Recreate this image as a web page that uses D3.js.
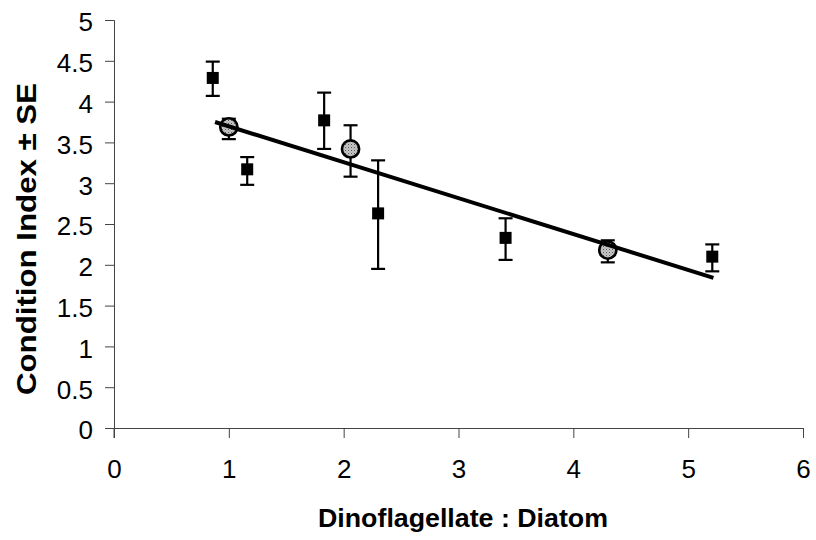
<!DOCTYPE html>
<html>
<head>
<meta charset="utf-8">
<script src="https://cdn.jsdelivr.net/npm/d3@7"></script>
<style>
  body { margin: 0; background: #fff; }
  svg { display: block; font-family: "Liberation Sans", Arial, sans-serif; }
</style>
</head>
<body>
<script>
// squares (black)
var sqX = [0.86, 1.16, 1.83, 2.30, 3.41, 5.21];
var sqY = [4.29, 3.17, 3.77, 2.63, 2.33, 2.10];
var sqHi = [4.49, 3.32, 4.11, 3.28, 2.57, 2.25];
var sqLo = [4.07, 2.98, 3.42, 1.95, 2.06, 1.92];

// circles (grey)
var ciX = [1.00, 2.06, 4.30];
var ciY = [3.69, 3.42, 2.18];
var ciHi = [3.79, 3.71, 2.30];
var ciLo = [3.54, 3.08, 2.03];

// fitted line end points
var fitX = [0.88, 5.22];
var fitY = [3.75, 1.84];

var xTicks = [0, 1, 2, 3, 4, 5, 6];
var yTicks = [0, 0.5, 1, 1.5, 2, 2.5, 3, 3.5, 4, 4.5, 5];

var width = 816, height = 540;
var x = d3.scaleLinear().domain([0, 6]).range([114, 803]);
var y = d3.scaleLinear().domain([0, 5]).range([428, 20]);

var svg = d3.select('body').append('svg')
    .attr('width', width)
    .attr('height', height);

// stipple fill for the circles
var pat = svg.append('defs').append('pattern')
    .attr('id', 'stip')
    .attr('width', 3).attr('height', 3)
    .attr('patternUnits', 'userSpaceOnUse');
pat.append('rect').attr('width', 3).attr('height', 3).attr('fill', '#c8c8c8');
pat.append('rect').attr('width', 1).attr('height', 1).attr('fill', '#555');
pat.append('rect').attr('x', 1.5).attr('y', 1.5).attr('width', 1).attr('height', 1).attr('fill', '#888');

// axes
var xAxis = svg.append('g')
    .attr('transform', 'translate(0,' + y(0) + ')')
    .call(d3.axisBottom(x).tickValues(xTicks).tickFormat(d3.format('d'))
        .tickSizeOuter(0).tickSize(10).tickPadding(22));

var yAxis = svg.append('g')
    .attr('transform', 'translate(' + x(0) + ',0)')
    .call(d3.axisLeft(y).tickValues(yTicks).tickFormat(function(d) { return d; })
        .tickSizeOuter(0).tickSize(9).tickPadding(12));

svg.selectAll('.domain').attr('stroke', '#444').attr('stroke-width', 1);
svg.selectAll('.tick line').attr('stroke', '#444').attr('stroke-width', 1);
svg.selectAll('.tick text')
    .attr('fill', '#000')
    .style('font-size', '26px');
yAxis.selectAll('.tick text').attr('dy', '0.42em');

// y axis line continues down to the x tick depth
svg.append('line')
    .attr('x1', x(0)).attr('x2', x(0))
    .attr('y1', y(0)).attr('y2', y(0) + 10)
    .attr('stroke', '#444');

// error bars
function errBars(xs, his, los) {
  var g = svg.append('g').attr('stroke', '#000').attr('stroke-width', 2.2);
  xs.forEach(function(d, i) {
    var cx = x(d);
    g.append('line').attr('x1', cx).attr('x2', cx).attr('y1', y(his[i])).attr('y2', y(los[i]));
    g.append('line').attr('x1', cx - 7).attr('x2', cx + 7).attr('y1', y(his[i])).attr('y2', y(his[i]));
    g.append('line').attr('x1', cx - 7).attr('x2', cx + 7).attr('y1', y(los[i])).attr('y2', y(los[i]));
  });
}
errBars(sqX, sqHi, sqLo);
errBars(ciX, ciHi, ciLo);

// squares
svg.append('g').selectAll('rect')
    .data(sqX)
    .enter().append('rect')
    .attr('x', function(d) { return x(d) - 6; })
    .attr('y', function(d, i) { return y(sqY[i]) - 6; })
    .attr('width', 12)
    .attr('height', 12)
    .attr('fill', '#000');

// circles
svg.append('g').selectAll('circle')
    .data(ciX)
    .enter().append('circle')
    .attr('cx', function(d) { return x(d); })
    .attr('cy', function(d, i) { return y(ciY[i]); })
    .attr('r', 8.6)
    .attr('fill', 'url(#stip)')
    .attr('stroke', '#000')
    .attr('stroke-width', 2.6);

// regression line
svg.append('line')
    .attr('x1', x(fitX[0])).attr('y1', y(fitY[0]))
    .attr('x2', x(fitX[1])).attr('y2', y(fitY[1]))
    .attr('stroke', '#000')
    .attr('stroke-width', 4);

// axis titles
svg.append('text')
    .attr('x', 463).attr('y', 527)
    .attr('text-anchor', 'middle')
    .attr('font-weight', 'bold')
    .attr('font-size', '26px')
    .attr('textLength', 290)
    .attr('lengthAdjust', 'spacingAndGlyphs')
    .text('Dinoflagellate : Diatom');

svg.append('text')
    .attr('transform', 'translate(36,239) rotate(-90)')
    .attr('text-anchor', 'middle')
    .attr('font-weight', 'bold')
    .attr('font-size', '27px')
    .attr('textLength', 312)
    .attr('lengthAdjust', 'spacingAndGlyphs')
    .text('Condition Index \u00b1 SE');
</script>
</body>
</html>
